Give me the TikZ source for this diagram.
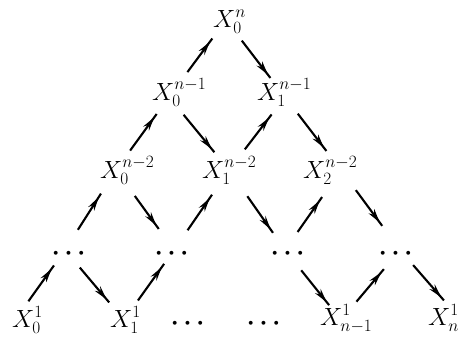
\documentclass[tikz,border=0pt]{standalone}
\usepackage{amsmath}
\usetikzlibrary{arrows.meta,calc,decorations.markings}
\tikzset{
  lbl/.style={inner sep=0pt, anchor=base west, font=\fontsize{25}{30}\selectfont},
  dotlbl/.style={inner sep=0pt, font=\fontsize{23}{28}\selectfont},
  arr/.style={line width=2.1pt, postaction={decorate},
    decoration={markings, mark=at position -4pt with {\arrow{Stealth[length=14pt,width=7pt,inset=4.5pt]}}}}
}
\newcommand\linkarr[4]{\draw[arr] ($(#1)!#3pt!(#2)$) -- ($(#2)!#4pt!(#1)$);}
\newcommand\bdots{$\boldsymbol{\cdots}$}
\begin{document}
\begin{tikzpicture}[x=1pt,y=-1pt]
\useasboundingbox (0,0) rectangle (474,341);
% labels
\node[lbl] (x00) at (213,27)  {$X_0^n$};
\node[lbl] (x10) at (152,100) {$X_0^{n-1}$};
\node[lbl] (x11) at (257,100) {$X_1^{n-1}$};
\node[lbl] (x20) at (100,178) {$X_0^{n-2}$};
\node[lbl] (x21) at (202,178) {$X_1^{n-2}$};
\node[lbl] (x22) at (303,178) {$X_2^{n-2}$};
\node[dotlbl] (d30) at (71,254)  {\bdots};
\node[dotlbl] (d31) at (174,254) {\bdots};
\node[dotlbl] (d32) at (290,254) {\bdots};
\node[dotlbl] (d33) at (398,254) {\bdots};
\node[lbl] (x40) at (12,327)  {$X_0^1$};
\node[lbl] (x41) at (110,327) {$X_1^1$};
\node[dotlbl] (d42) at (190,324) {\bdots};
\node[dotlbl] (d43) at (266,324) {\bdots};
\node[lbl] (x44) at (320,325) {$X_{n-1}^1$};
\node[lbl] (x45) at (428,325) {$X_n^1$};
% junctions
\coordinate (j00) at (226,20);
\coordinate (j10) at (169,97);
\coordinate (j11) at (285,97);
\coordinate (j20) at (116,170);
\coordinate (j21) at (229,170);
\coordinate (j22) at (341,170);
\coordinate (j30) at (65,250);
\coordinate (j31) at (174,250);
\coordinate (j32) at (285,250);
\coordinate (j33) at (400,250);
\coordinate (j40) at (15,320);
\coordinate (j41) at (124,320);
\coordinate (j44) at (341,320);
\coordinate (j45) at (461,320);
% arrows
\linkarr{j10}{j00}{31}{23}
\linkarr{j00}{j11}{26}{24}
\linkarr{j20}{j10}{24}{21}
\linkarr{j10}{j21}{23}{23}
\linkarr{j21}{j11}{26}{22}
\linkarr{j11}{j22}{21}{24}
\linkarr{j30}{j20}{24}{28}
\linkarr{j20}{j31}{32}{26}
\linkarr{j31}{j21}{24}{30}
\linkarr{j21}{j32}{32}{21}
\linkarr{j32}{j22}{22}{33}
\linkarr{j22}{j33}{25}{30}
\linkarr{j40}{j30}{23}{19}
\linkarr{j30}{j41}{23}{23}
\linkarr{j41}{j31}{24}{17}
\linkarr{j32}{j44}{26}{19}
\linkarr{j44}{j33}{24}{25}
\linkarr{j33}{j45}{20}{26}
\end{tikzpicture}
\end{document}
